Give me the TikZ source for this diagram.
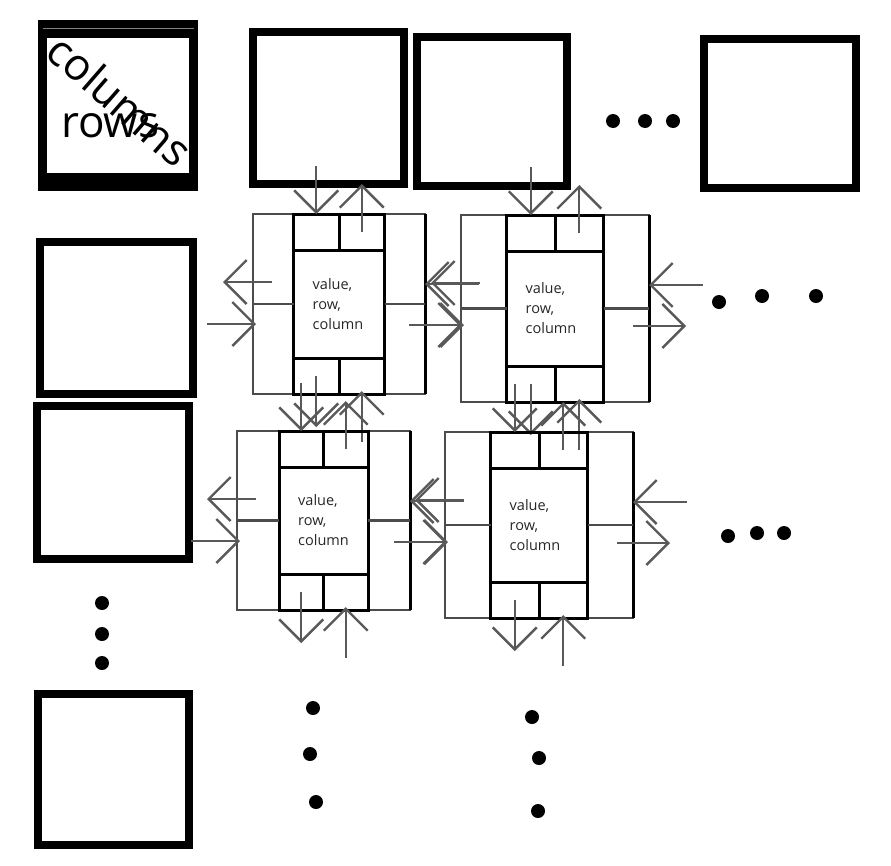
\documentclass[tikz,border=0pt]{standalone}
\usepackage{fontspec}
\setmainfont{Open Sans}
\usetikzlibrary{arrows.meta,calc}

\begin{document}
\begin{tikzpicture}[x=1pt,y=-1pt,
  >={Straight Barb[length=22pt,width=44pt]},
  head/.style={draw,line width=8pt,outer sep=0pt,inner sep=0pt},
  cell/.style={draw=black!70,line width=2.2pt,outer sep=0pt,inner sep=0pt},
  core/.style={draw,line width=3pt,outer sep=0pt,inner sep=0pt},
  link/.style={->,draw=black!65,line width=2.4pt},
  info/.style={font=\fontsize{14.5}{20}\selectfont,text=black!85,align=left,inner sep=0pt},
  big/.style={font=\fontsize{44}{44}\selectfont,inner sep=0pt},
  dot/.style={circle,fill,inner sep=0pt,minimum size=14pt}]

  \useasboundingbox (0,0) rectangle (891,865);

  % header nodes
  \node[head, minimum width=151pt, minimum height=162pt, line width=9pt] (h00) at (118,105.5) {};
  \fill (h00.north west) rectangle ([yshift=-13.5pt]h00.north east);
  \fill ([yshift=13.5pt]h00.south west) rectangle (h00.south east);
  \draw[gray, line width=1.5pt] ([yshift=-4pt]h00.north west) -- ([yshift=-4pt]h00.north east);
  \node[big, rotate=-41] (cols) at (120,100) {columns};
  \node[big, anchor=base] (rows) at (110,137) {rows};

  \node[head, minimum width=151pt, minimum height=152pt] (h01) at (328.5,108) {};
  \node[head, minimum width=150pt, minimum height=149pt] (h02) at (492,111.5) {};
  \node[head, minimum width=152pt, minimum height=149pt] (h03) at (780,113.5) {};
  \node[head, minimum width=153pt, minimum height=152pt] (h10) at (116.5,318) {};
  \node[head, minimum width=152pt, minimum height=153pt] (h20) at (113,482.5) {};
  \node[head, minimum width=151pt, minimum height=151pt] (h30) at (113.5,769.5) {};

  % element nodes
  \foreach \n/\p/\w/\h/\iw in {e11/{339,304}/172/180/91, e12/{555,308.5}/188/187/97,
                               e21/{323.5,520.5}/173/179/89, e22/{539,525}/188/186/97}{
    \node[cell, minimum width=\w pt, minimum height=\h pt] (\n) at (\p) {};
    \draw[line width=3pt] (\n.north east) -- (\n.south east);
    \node[core, minimum width=\iw pt, minimum height=\h pt] (\n c) at (\n) {};
    \draw[core] ([yshift=-36pt]\n c.north west) -- ([yshift=-36pt]\n c.north east)
      (\n c.north) -- ([yshift=-36pt]\n c.north)
      ([yshift=36pt]\n c.south west) -- ([yshift=36pt]\n c.south east)
      (\n c.south) -- ([yshift=36pt]\n c.south);
    \draw[cell] (\n.west) -- (\n c.west) (\n c.east) -- (\n.east);
    \node[info, anchor=west] (\n t) at ([xshift=19pt]\n c.west) {value,\\row,\\column};
    % pointer ends
    \coordinate (\n ti) at ($(\n c.north west)!.25!(\n c.north east)$);
    \coordinate (\n to) at ($(\n c.north west)!.75!(\n c.north east)$);
    \coordinate (\n bo) at ($(\n c.south west)!.25!(\n c.south east)$);
    \coordinate (\n bi) at ($(\n c.south west)!.75!(\n c.south east)$);
    \coordinate (\n lo) at ([yshift=-68pt]\n.north west);
    \coordinate (\n li) at ([yshift=-110pt]\n.north west);
    \coordinate (\n ri) at ([yshift=-70pt]\n.north east);
    \coordinate (\n ro) at ([yshift=-111pt]\n.north east);
    \draw[link] ([yshift=48pt]\n ti) -- (\n ti);
    \draw[link] ([yshift=-18pt]\n to) -- ([yshift=30pt]\n to);
    \draw[link] ([xshift=19pt]\n lo) -- ([xshift=-30pt]\n lo);
    \draw[link] ([xshift=-46pt]\n li) -- ([xshift=3pt]\n li);
    \draw[link] ([xshift=54pt]\n ri) -- (\n ri);
    \draw[link] ([xshift=-16pt]\n ro) -- ([xshift=37pt]\n ro);
    \draw[link] ([yshift=18pt]\n bo) -- ([yshift=-33pt]\n bo);
    \draw[link] ([yshift=-48pt]\n bi) -- ([yshift=3pt]\n bi);
  }

  % continuation dots
  \node[dot] (d1) at (613,121) {};  \node[dot] (d2) at (645,121) {};  \node[dot] (d3) at (673,121) {};
  \node[dot] (d4) at (719,302) {};  \node[dot] (d5) at (762,296) {};  \node[dot] (d6) at (816,296) {};
  \node[dot] (d7) at (728,536) {};  \node[dot] (d8) at (757,533) {};  \node[dot] (d9) at (784,533) {};
  \node[dot] (d10) at (102,603) {}; \node[dot] (d11) at (102,634) {}; \node[dot] (d12) at (102,663) {};
  \node[dot] (d13) at (313,708) {}; \node[dot] (d14) at (310,754) {}; \node[dot] (d15) at (316,802) {};
  \node[dot] (d16) at (532,717) {}; \node[dot] (d17) at (539,758) {}; \node[dot] (d18) at (538,811) {};
\end{tikzpicture}
\end{document}
